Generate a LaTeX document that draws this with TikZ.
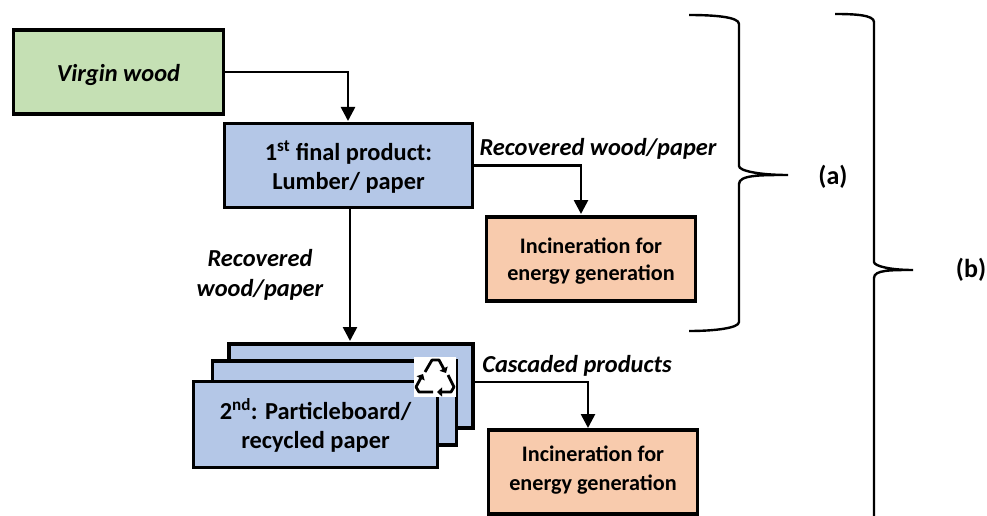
\documentclass[tikz,border=0pt]{standalone}
\usepackage{fontspec}
\setmainfont{Carlito}
\usetikzlibrary{arrows.meta}
\definecolor{boxgreen}{HTML}{C5E0B4}
\definecolor{boxblue}{HTML}{B4C7E7}
\definecolor{boxorange}{HTML}{F8CBAD}
\newcommand{\shifttext}[2]{\raisebox{#1}[0pt][0pt]{\begin{tabular}{@{}c@{}}#2\end{tabular}}}
\tikzset{
  flowbox/.style={draw=black,line width=3.4pt,minimum width=#1,inner sep=0pt,align=center,font=\bfseries\fontsize{24.4}{29}\selectfont},
  wide/.style={minimum height=84pt},
  link/.style={draw=black,line width=2.6pt,-{Triangle[length=14pt,width=14pt]}},
  lbl/.style={font=\bfseries\itshape\fontsize{24.4}{30}\selectfont,align=center,inner sep=0pt},
  side/.style={font=\bfseries\fontsize{26}{30}\selectfont,inner sep=0pt},
  brace/.style={draw=black,line width=2.4pt},
}
\begin{document}
\begin{tikzpicture}[x=1pt,y=-1pt]
\useasboundingbox (0,0) rectangle (987,516);
\node[flowbox=210pt,wide,fill=boxgreen,font=\bfseries\itshape\fontsize{24.4}{29}\selectfont] (virgin) at (118.5,72) {\shifttext{-10pt}{Virgin wood}};
\node[flowbox=248pt,wide,fill=boxblue] (first) at (348.5,165.5) {\shifttext{-9.5pt}{1\textsuperscript{st} final product:\\Lumber/ paper}};
\node[flowbox=209pt,wide,fill=boxorange,font=\bfseries\fontsize{22.2}{29}\selectfont] (incA) at (591,259) {\shifttext{-7.5pt}{Incineration for\\[-2pt]energy generation}};
\node[flowbox=244pt,wide,fill=boxblue] (back) at (351,386) {};
\node[flowbox=244pt,wide,fill=boxblue] (mid) at (334.5,403) {};
\node[flowbox=244pt,wide,minimum height=86pt,fill=boxblue] (front) at (315.5,424.5) {\shifttext{-10pt}{2\textsuperscript{nd}: Particleboard/\\recycled paper}};
\node[flowbox=209pt,wide,fill=boxorange,font=\bfseries\fontsize{22.2}{29}\selectfont] (incB) at (593,472) {\shifttext{-3pt}{Incineration for\\energy generation}};
% recycling symbol
\node[fill=white,minimum width=42pt,minimum height=40pt,inner sep=0pt] (icon) at (435,377) {};
\begin{scope}[shift={(icon.center)},line width=2.8pt,line join=round,-{Triangle[length=5pt,width=9pt]}]
  \draw (-10,-5) -- (-3,-17) -- (4,-17) -- (11,-4);
  \draw (-2,15) -- (-16,15) -- (-19,10) -- (-12,-3);
  \draw (13,-2) -- (19,10) -- (16,15) -- (2,15);
\end{scope}
\coordinate (firstTop) at (348,121);
\coordinate (incAIn) at (581,214);
\coordinate (backIn) at (350,341);
\coordinate (firstBottom) at (350,209);
\coordinate (backOut) at (475,382);
\coordinate (incBIn) at (588,428);
\draw[link] (virgin.east) -| (firstTop);
\draw[link] (first.east) -| (incAIn);
\draw[link] (firstBottom) -- (backIn);
\draw[link] (backOut) -| (incBIn);
\node[lbl] (rec1) at (598,149) {Recovered wood/paper};
\node[lbl] (rec2) at (260,275) {Recovered\\wood/paper};
\node[lbl] (casc) at (577,366) {Cascaded products};
\node[side] (labA) at (833,177) {(a)};
\node[side] (labB) at (971,270) {(b)};
\coordinate (aTop) at (689,15);
\coordinate (aTip) at (788,175);
\coordinate (aBot) at (689,331);
\coordinate (bTop) at (835,14);
\coordinate (bTip) at (913,270);
\coordinate (bBot) at (874,516);
\draw[brace] (aTop) .. controls (715,15) and (739,17) .. (739,24) -- (739,166)
  .. controls (739,171) and (760,175) .. (aTip)
  .. controls (760,175) and (739,175) .. (739,184) -- (739,322)
  .. controls (739,328) and (715,331) .. (aBot);
\draw[brace] (bTop) .. controls (855,14) and (874,15) .. (874,22) -- (874,262)
  .. controls (874,266) and (890,270) .. (bTip)
  .. controls (890,270) and (874,270) .. (874,278) -- (bBot);
\end{tikzpicture}
\end{document}
